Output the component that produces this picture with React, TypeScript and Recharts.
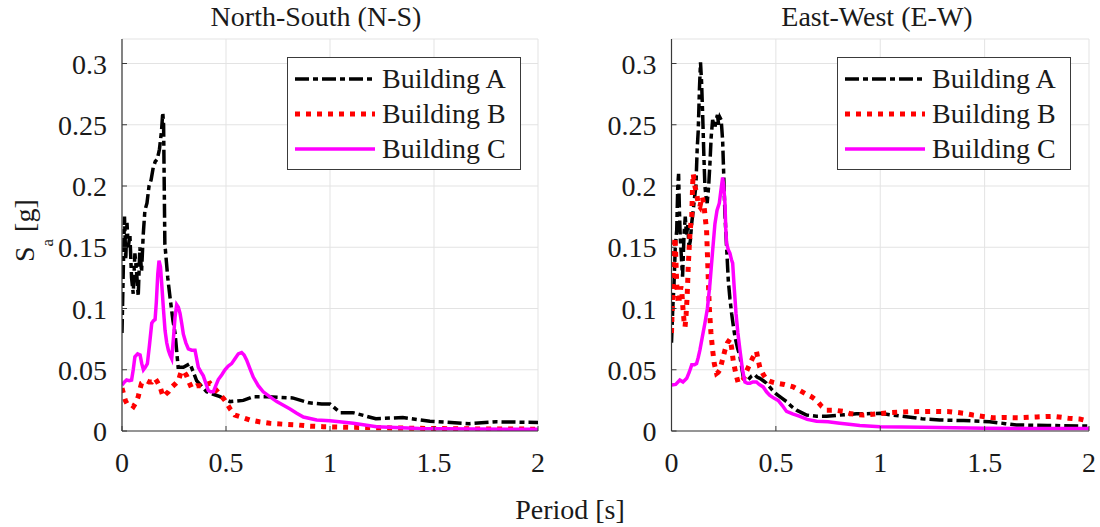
import { CartesianGrid, Legend, Line, LineChart, XAxis, YAxis } from "recharts";

type Pt = [number, number];

const periodTicks = [0, 0.5, 1, 1.5, 2];
const saTicks = [0, 0.05, 0.1, 0.15, 0.2, 0.25, 0.3];

// [period (s), Sa (g)]
const nsBuildingA: Pt[] = [
  [0, 0.08], [0.006, 0.13], [0.012, 0.175], [0.018, 0.14], [0.024, 0.17], [0.03, 0.15],
  [0.038, 0.16], [0.046, 0.125], [0.054, 0.112], [0.062, 0.145], [0.07, 0.13], [0.078, 0.11],
  [0.086, 0.15], [0.094, 0.13], [0.102, 0.16], [0.11, 0.18], [0.12, 0.186], [0.13, 0.2],
  [0.14, 0.205], [0.15, 0.215], [0.16, 0.22], [0.17, 0.222], [0.18, 0.23], [0.19, 0.245],
  [0.196, 0.26], [0.2, 0.25], [0.206, 0.153], [0.22, 0.125], [0.231, 0.109], [0.245, 0.09],
  [0.255, 0.08], [0.27, 0.052], [0.295, 0.052], [0.327, 0.055], [0.359, 0.041], [0.407, 0.032],
  [0.471, 0.028], [0.52, 0.024], [0.583, 0.025], [0.631, 0.028], [0.7, 0.028], [0.82, 0.027],
  [0.9, 0.023], [0.96, 0.022], [1.0, 0.022], [1.05, 0.015], [1.11, 0.015], [1.22, 0.01],
  [1.35, 0.011], [1.48, 0.008], [1.67, 0.006], [1.8, 0.0075], [2.0, 0.007],
];

const nsBuildingB: Pt[] = [
  [0, 0.035], [0.008, 0.03], [0.016, 0.025], [0.025, 0.022], [0.04, 0.022], [0.055, 0.02],
  [0.066, 0.023], [0.078, 0.028], [0.086, 0.034], [0.094, 0.039], [0.105, 0.04], [0.119, 0.041],
  [0.13, 0.04], [0.143, 0.04], [0.151, 0.042], [0.159, 0.043], [0.17, 0.04], [0.183, 0.036],
  [0.192, 0.031], [0.199, 0.028], [0.21, 0.03], [0.223, 0.032], [0.235, 0.035], [0.247, 0.037],
  [0.26, 0.039], [0.271, 0.041], [0.28, 0.046], [0.287, 0.049], [0.3, 0.048], [0.311, 0.045],
  [0.322, 0.04], [0.335, 0.035], [0.347, 0.036], [0.359, 0.037], [0.375, 0.037], [0.391, 0.036],
  [0.407, 0.038], [0.423, 0.039], [0.44, 0.036], [0.455, 0.033], [0.475, 0.029], [0.495, 0.025],
  [0.52, 0.018], [0.543, 0.013], [0.58, 0.011], [0.615, 0.009], [0.66, 0.0075], [0.711, 0.0063],
  [0.78, 0.0055], [0.84, 0.005], [0.9, 0.004], [0.968, 0.0035], [1.1, 0.003], [1.3, 0.0025],
  [1.6, 0.0018], [2.0, 0.0015],
];

const nsBuildingC: Pt[] = [
  [0, 0.0375], [0.012, 0.04], [0.022, 0.0416], [0.035, 0.041], [0.046, 0.0416], [0.054, 0.05],
  [0.062, 0.0606], [0.075, 0.063], [0.087, 0.062], [0.095, 0.055], [0.103, 0.05], [0.112, 0.052],
  [0.122, 0.055], [0.132, 0.07], [0.143, 0.088], [0.151, 0.09], [0.159, 0.091], [0.165, 0.105],
  [0.172, 0.128], [0.178, 0.139], [0.185, 0.134], [0.191, 0.12], [0.199, 0.1], [0.207, 0.082],
  [0.215, 0.072], [0.223, 0.066], [0.231, 0.062], [0.239, 0.059], [0.247, 0.075], [0.255, 0.093],
  [0.263, 0.103], [0.271, 0.101], [0.279, 0.096], [0.287, 0.088], [0.295, 0.079], [0.307, 0.072],
  [0.319, 0.067], [0.335, 0.066], [0.351, 0.066], [0.36, 0.058], [0.367, 0.052], [0.38, 0.048],
  [0.391, 0.045], [0.403, 0.039], [0.415, 0.033], [0.427, 0.032], [0.439, 0.032], [0.451, 0.037],
  [0.463, 0.042], [0.48, 0.046], [0.495, 0.05], [0.511, 0.053], [0.527, 0.055], [0.543, 0.059],
  [0.559, 0.063], [0.575, 0.064], [0.587, 0.062], [0.599, 0.058], [0.615, 0.051], [0.631, 0.044],
  [0.655, 0.037], [0.679, 0.032], [0.71, 0.028], [0.744, 0.024], [0.776, 0.021], [0.808, 0.018],
  [0.84, 0.0145], [0.872, 0.0114], [0.936, 0.009], [1.0, 0.0083], [1.112, 0.0063], [1.224, 0.0035],
  [1.43, 0.002], [1.7, 0.0016], [2.0, 0.0014],
];

const ewBuildingA: Pt[] = [
  [0, 0.072], [0.006, 0.1], [0.012, 0.12], [0.018, 0.15], [0.025, 0.164], [0.03, 0.2],
  [0.034, 0.21], [0.038, 0.18], [0.042, 0.158], [0.048, 0.14], [0.053, 0.126], [0.06, 0.16],
  [0.066, 0.175], [0.072, 0.16], [0.078, 0.168], [0.084, 0.15], [0.09, 0.155], [0.097, 0.17],
  [0.104, 0.18], [0.11, 0.19], [0.117, 0.2], [0.123, 0.23], [0.128, 0.245], [0.134, 0.28],
  [0.139, 0.301], [0.144, 0.285], [0.149, 0.26], [0.155, 0.225], [0.16, 0.2], [0.166, 0.19],
  [0.171, 0.186], [0.178, 0.2], [0.184, 0.218], [0.19, 0.24], [0.197, 0.254], [0.203, 0.25],
  [0.208, 0.248], [0.215, 0.255], [0.22, 0.258], [0.226, 0.25], [0.232, 0.256], [0.238, 0.254],
  [0.245, 0.237], [0.25, 0.21], [0.256, 0.177], [0.264, 0.15], [0.272, 0.123], [0.28, 0.108],
  [0.288, 0.096], [0.296, 0.086], [0.304, 0.077], [0.316, 0.068], [0.328, 0.061], [0.336, 0.052],
  [0.344, 0.044], [0.356, 0.042], [0.368, 0.042], [0.384, 0.045], [0.399, 0.046], [0.41, 0.044],
  [0.423, 0.043], [0.44, 0.041], [0.455, 0.039], [0.48, 0.034], [0.503, 0.03], [0.527, 0.027],
  [0.551, 0.024], [0.575, 0.02], [0.599, 0.017], [0.623, 0.015], [0.647, 0.013], [0.695, 0.012],
  [0.743, 0.012], [0.806, 0.013], [0.886, 0.014], [1.0, 0.0144], [1.06, 0.013], [1.125, 0.0117],
  [1.2, 0.01], [1.285, 0.009], [1.4, 0.0085], [1.524, 0.0076], [1.6, 0.006], [1.652, 0.0049],
  [1.8, 0.0045], [2.0, 0.004],
];

const ewBuildingB: Pt[] = [
  [0, 0.08], [0.005, 0.11], [0.009, 0.137], [0.013, 0.15], [0.017, 0.158], [0.021, 0.14],
  [0.025, 0.12], [0.029, 0.11], [0.033, 0.104], [0.04, 0.11], [0.045, 0.118], [0.049, 0.115],
  [0.055, 0.1], [0.06, 0.09], [0.065, 0.085], [0.07, 0.095], [0.075, 0.11], [0.081, 0.137],
  [0.088, 0.16], [0.093, 0.17], [0.097, 0.175], [0.101, 0.2], [0.104, 0.21], [0.108, 0.205],
  [0.113, 0.199], [0.12, 0.195], [0.128, 0.185], [0.136, 0.183], [0.142, 0.188], [0.148, 0.191],
  [0.155, 0.185], [0.161, 0.175], [0.168, 0.164], [0.175, 0.13], [0.181, 0.101], [0.189, 0.08],
  [0.197, 0.066], [0.205, 0.055], [0.216, 0.047], [0.224, 0.048], [0.232, 0.05], [0.244, 0.058],
  [0.256, 0.066], [0.268, 0.072], [0.28, 0.075], [0.288, 0.068], [0.296, 0.057], [0.308, 0.047],
  [0.32, 0.039], [0.332, 0.04], [0.344, 0.042], [0.36, 0.049], [0.376, 0.055], [0.39, 0.06],
  [0.407, 0.065], [0.415, 0.058], [0.423, 0.052], [0.44, 0.046], [0.455, 0.042], [0.48, 0.04],
  [0.503, 0.039], [0.54, 0.038], [0.583, 0.036], [0.615, 0.033], [0.647, 0.03], [0.67, 0.028],
  [0.695, 0.025], [0.72, 0.02], [0.743, 0.017], [0.78, 0.017], [0.823, 0.016], [0.86, 0.014],
  [0.918, 0.013], [0.98, 0.014], [1.05, 0.015], [1.157, 0.0158], [1.25, 0.016], [1.333, 0.0158],
  [1.4, 0.0145], [1.444, 0.013], [1.54, 0.0108], [1.6, 0.011], [1.667, 0.0108], [1.75, 0.0115],
  [1.827, 0.012], [1.9, 0.0105], [1.955, 0.0098], [2.0, 0.008],
];

const ewBuildingC: Pt[] = [
  [0, 0.0375], [0.02, 0.038], [0.04, 0.0416], [0.055, 0.04], [0.073, 0.043], [0.085, 0.048],
  [0.097, 0.054], [0.11, 0.054], [0.12, 0.055], [0.128, 0.06], [0.136, 0.066], [0.148, 0.077],
  [0.16, 0.088], [0.172, 0.1], [0.184, 0.12], [0.196, 0.145], [0.208, 0.169], [0.218, 0.18],
  [0.229, 0.186], [0.238, 0.198], [0.245, 0.207], [0.25, 0.2], [0.256, 0.186], [0.26, 0.165],
  [0.264, 0.153], [0.272, 0.148], [0.28, 0.145], [0.287, 0.14], [0.293, 0.137], [0.3, 0.118],
  [0.309, 0.096], [0.318, 0.08], [0.328, 0.066], [0.34, 0.05], [0.352, 0.04], [0.364, 0.039],
  [0.376, 0.039], [0.39, 0.04], [0.407, 0.04], [0.42, 0.038], [0.439, 0.036], [0.455, 0.032],
  [0.471, 0.029], [0.49, 0.027], [0.511, 0.025], [0.53, 0.021], [0.551, 0.016], [0.58, 0.014],
  [0.615, 0.012], [0.65, 0.0095], [0.695, 0.008], [0.75, 0.0075], [0.806, 0.0063], [0.85, 0.0055],
  [0.902, 0.0045], [1.0, 0.0035], [1.2, 0.003], [1.5, 0.0022], [1.8, 0.002], [2.0, 0.002],
];

const FONT = "'Liberation Serif', 'Times New Roman', serif";
const TEXT = "#1a1a1a";
const BOX = "#3a3a3a";
const TICK_LEN = 5;

const styles = [
  { name: "Building A", color: "#000000", width: 3.5, dash: "14 4 5 4" },
  { name: "Building B", color: "#ff0000", width: 5, dash: "5 6" },
  { name: "Building C", color: "#ff00ff", width: 3.5, dash: undefined as string | undefined },
];

const toRows = (pts: Pt[]) => pts.map(([period, sa]) => ({ period, sa }));
const fmt = (v: number) => String(Number(v.toFixed(2)));

// tick renderers: labels outside, short marks pointing into the plot box
const LeftTick = ({ x, y, payload }: any) => (
  <g>
    <line x1={x + 15} x2={x + 15 + TICK_LEN} y1={y} y2={y} stroke={BOX} />
    <text x={x} y={y} dy={10} textAnchor="end" fontFamily={FONT} fontSize={28} fill={TEXT}>
      {fmt(payload.value)}
    </text>
  </g>
);

const BottomTick = ({ x, y, payload }: any) => (
  <g>
    <line x1={x} x2={x} y1={y - 12} y2={y - 12 - TICK_LEN} stroke={BOX} />
    <text x={x} y={y} dy={29} textAnchor="middle" fontFamily={FONT} fontSize={28} fill={TEXT}>
      {fmt(payload.value)}
    </text>
  </g>
);

const RightTick = ({ x, y }: any) => <line x1={x - TICK_LEN} x2={x} y1={y} y2={y} stroke={BOX} />;
const TopTick = ({ x, y }: any) => <line x1={x} x2={x} y1={y} y2={y + TICK_LEN} stroke={BOX} />;

const LegendBox = () => (
  <div
    style={{
      border: `1px solid ${BOX}`,
      background: "#fff",
      width: 232,
      padding: "3px 0",
      fontFamily: FONT,
      fontSize: 28,
      color: TEXT,
    }}
  >
    {styles.map((s) => (
      <div key={s.name} style={{ display: "flex", alignItems: "center", height: 35 }}>
        <svg width={94} height={10}>
          <line x1={7} x2={87} y1={5} y2={5} stroke={s.color} strokeWidth={s.width} strokeDasharray={s.dash} />
        </svg>
        <span style={{ lineHeight: "35px" }}>{s.name}</span>
      </div>
    ))}
  </div>
);

type PanelProps = { series: Pt[][]; left: number; marginLeft: number; marginRight: number };

const Panel = ({ series, left, marginLeft, marginRight }: PanelProps) => (
  <div style={{ position: "absolute", left, top: 0 }}>
    <LineChart width={550} height={527} margin={{ top: 39, right: marginRight, bottom: 56, left: marginLeft }}>
      <CartesianGrid stroke="#e3e3e3" strokeWidth={1} />
      <XAxis
        type="number"
        dataKey="period"
        domain={[0, 2]}
        ticks={periodTicks}
        interval={0}
        height={40}
        tickSize={0}
        tickMargin={12}
        tick={BottomTick}
        axisLine={{ stroke: BOX, strokeWidth: 1.2 }}
        allowDataOverflow
      />
      <XAxis
        xAxisId="top"
        orientation="top"
        type="number"
        dataKey="period"
        domain={[0, 2]}
        ticks={periodTicks}
        interval={0}
        height={0}
        tickSize={0}
        tickMargin={0}
        tick={TopTick}
        axisLine={{ stroke: BOX, strokeWidth: 1.2 }}
      />
      <YAxis
        type="number"
        domain={[0, 0.32]}
        ticks={saTicks}
        interval={0}
        width={60}
        tickSize={0}
        tickMargin={15}
        tick={LeftTick}
        axisLine={{ stroke: BOX, strokeWidth: 1.2 }}
        allowDataOverflow
      />
      <YAxis
        yAxisId="right"
        orientation="right"
        type="number"
        domain={[0, 0.32]}
        ticks={saTicks}
        interval={0}
        width={0}
        tickSize={0}
        tickMargin={0}
        tick={RightTick}
        axisLine={{ stroke: BOX, strokeWidth: 1.2 }}
      />
      {series.map((pts, i) => (
        <Line
          key={styles[i].name}
          name={styles[i].name}
          data={toRows(pts)}
          dataKey="sa"
          type="linear"
          stroke={styles[i].color}
          strokeWidth={styles[i].width}
          strokeDasharray={styles[i].dash}
          dot={false}
          activeDot={false}
          isAnimationActive={false}
        />
      ))}
      <Legend
        layout="vertical"
        align="center"
        verticalAlign="middle"
        wrapperStyle={{ left: 287, top: 57, width: 234 }}
        content={<LegendBox />}
      />
    </LineChart>
  </div>
);

export default function App() {
  return (
    <div style={{ position: "absolute", left: 0, top: 0, width: 1100, height: 527, background: "#fff" }}>
      <Panel series={[nsBuildingA, nsBuildingB, nsBuildingC]} left={0} marginLeft={62} marginRight={12} />
      <Panel series={[ewBuildingA, ewBuildingB, ewBuildingC]} left={550} marginLeft={61.5} marginRight={11} />
      <svg
        width={1100}
        height={527}
        style={{ position: "absolute", left: 0, top: 0, pointerEvents: "none" }}
        fontFamily={FONT}
        fill={TEXT}
      >
        <text x={316} y={26} fontSize={28} textAnchor="middle">North-South (N-S)</text>
        <text x={877} y={26} fontSize={28} textAnchor="middle">East-West (E-W)</text>
        <text x={570} y={519} fontSize={28} textAnchor="middle">Period [s]</text>
        <text transform="translate(34 262) rotate(-90)" fontSize={28}>
          <tspan>S</tspan>
          <tspan fontSize={17} dy={19}>a</tspan>
          <tspan dy={-19}>{" [g]"}</tspan>
        </text>
      </svg>
    </div>
  );
}
